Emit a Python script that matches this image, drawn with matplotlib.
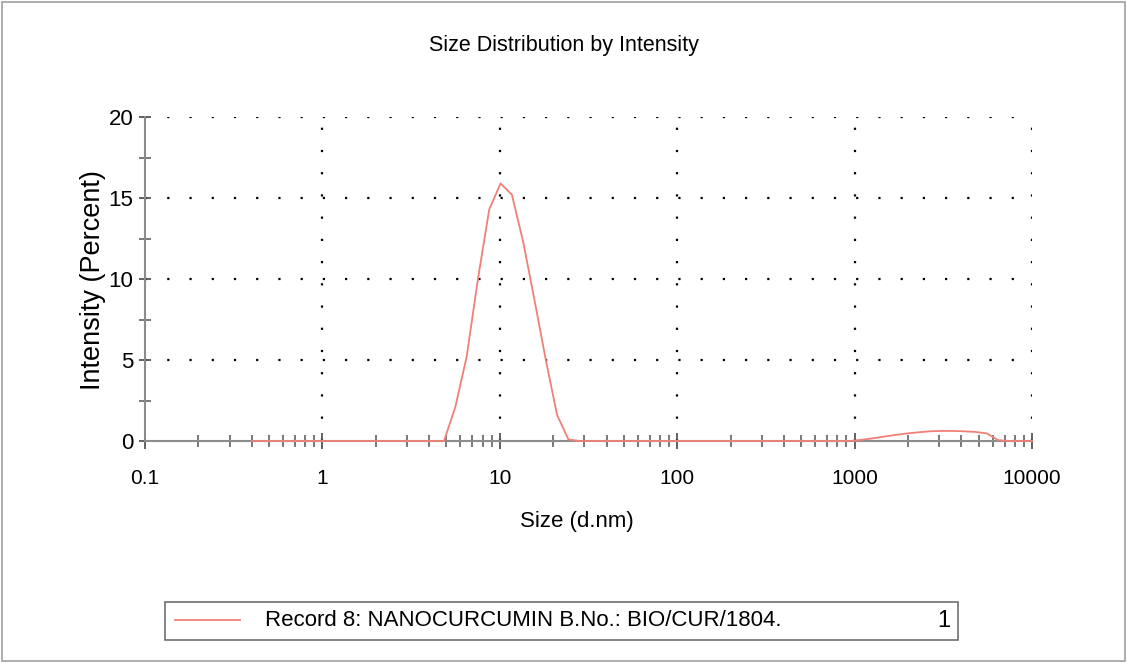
import numpy as np
import matplotlib.pyplot as plt
from matplotlib.ticker import FixedLocator, NullFormatter
from matplotlib.patches import Rectangle
from matplotlib.lines import Line2D

plt.rcParams['font.family'] = ['Liberation Sans', 'DejaVu Sans']

# size bins (d.nm) and intensity (%)
size_nm = [0.4000, 0.4632, 0.5365, 0.6213, 0.7195, 0.8332, 0.9649, 1.117, 1.294,
           1.499, 1.736, 2.010, 2.328, 2.696, 3.122, 3.615, 4.187, 4.849, 5.615,
           6.503, 7.531, 8.721, 10.10, 11.70, 13.54, 15.69, 18.17, 21.04, 24.36,
           28.21, 32.67, 37.84, 43.82, 50.75, 58.77, 68.06, 78.82, 91.28, 105.7,
           122.4, 141.8, 164.2, 190.1, 220.2, 255.0, 295.3, 342.0, 396.1, 458.7,
           531.2, 615.1, 712.4, 825.0, 955.4, 1106, 1281, 1484, 1718, 1990, 2305,
           2669, 3091, 3580, 4145, 4801, 5560, 6439, 7456, 8635, 10000]
intensity = [0, 0, 0, 0, 0, 0, 0, 0, 0,
             0, 0, 0, 0, 0, 0, 0, 0, 0, 2.1,
             5.2, 10.0, 14.3, 15.9, 15.2, 12.3, 8.7, 5.0, 1.6, 0.1,
             0, 0, 0, 0, 0, 0, 0, 0, 0, 0,
             0, 0, 0, 0, 0, 0, 0, 0, 0, 0,
             0, 0, 0, 0, 0, 0.08, 0.17, 0.28, 0.38, 0.47, 0.54,
             0.60, 0.62, 0.62, 0.60, 0.56, 0.47, 0.05, 0, 0, 0]

x_ticks = [0.1, 1, 10, 100, 1000, 10000]
x_labels = ['0.1', '1', '10', '100', '1000', '10000']
y_ticks = [0, 5, 10, 15, 20]

title = 'Size Distribution by Intensity'
legend_text = 'Record 8: NANOCURCUMIN B.No.: BIO/CUR/1804.'

line_color = '#f08078'
axis_color = '#8c8c8c'
W, H = 1127, 663

fig = plt.figure(figsize=(W / 100, H / 100), dpi=100)
fig.patches.append(Rectangle((0.002, 0.003), 0.996, 0.994, transform=fig.transFigure,
                             fill=False, edgecolor='#a0a0a0', lw=1.2))

ax = fig.add_axes([145 / W, 1 - 441 / H, 887 / W, 324 / H])
ax.set_xscale('log')
ax.set_xlim(0.1, 10000)
ax.set_ylim(0, 20)

# dotted grid
for xv in x_ticks[1:]:
    ax.axvline(xv, color='black', ls=(0, (1, 9)), lw=1.6, zorder=1)
for yv in y_ticks[1:]:
    ax.axhline(yv, color='black', ls=(0, (1, 9)), lw=1.6, zorder=1)

ax.plot(size_nm, intensity, color=line_color, lw=1.3, zorder=3, clip_on=False)

for s in ['top', 'right']:
    ax.spines[s].set_visible(False)
for s in ['left', 'bottom']:
    ax.spines[s].set_color(axis_color)
    ax.spines[s].set_linewidth(1.5)
    ax.spines[s].set_zorder(2)

ax.xaxis.set_major_locator(FixedLocator(x_ticks))
ax.set_xticklabels(x_labels)
minor_x = [m * 10.0 ** e for e in range(-1, 4) for m in range(2, 10)]
ax.xaxis.set_minor_locator(FixedLocator(minor_x))
ax.xaxis.set_minor_formatter(NullFormatter())
ax.set_yticks(y_ticks)
ax.yaxis.set_minor_locator(FixedLocator([2.5, 7.5, 12.5, 17.5]))

ax.tick_params(which='major', direction='inout', length=12, width=1.3, color='#555555',
               labelsize=15, pad=14)
ax.tick_params(which='minor', direction='inout', length=8, width=1.1, color='#555555')
ax.tick_params(axis='y', which='major', direction='inout', length=9, pad=4,
               labelsize=16)

fig.text(0.5, 1 - 46 / H, title, fontsize=15.5, ha='center', va='center')
fig.text(577 / W, 1 - 522 / H, 'Size (d.nm)', fontsize=16, ha='center', va='center')
fig.text(93 / W, 1 - 280 / H, 'Intensity (Percent)', fontsize=19.5, rotation=90,
         ha='center', va='center')

# legend box
fig.patches.append(Rectangle((165 / W, 1 - 640 / H), 793 / W, 38 / H,
                             transform=fig.transFigure, fill=False,
                             edgecolor='#707070', lw=1.2))
fig.lines.append(Line2D([175 / W, 240 / W], [1 - 620 / H, 1 - 620 / H],
                        transform=fig.transFigure, color=line_color, lw=1.3))
fig.text(265 / W, 1 - 621 / H, legend_text, fontsize=16, va='center', ha='left')
fig.text(950 / W, 1 - 621 / H, '1', fontsize=17, va='center', ha='right')

fig.savefig('out.png', dpi=100)
